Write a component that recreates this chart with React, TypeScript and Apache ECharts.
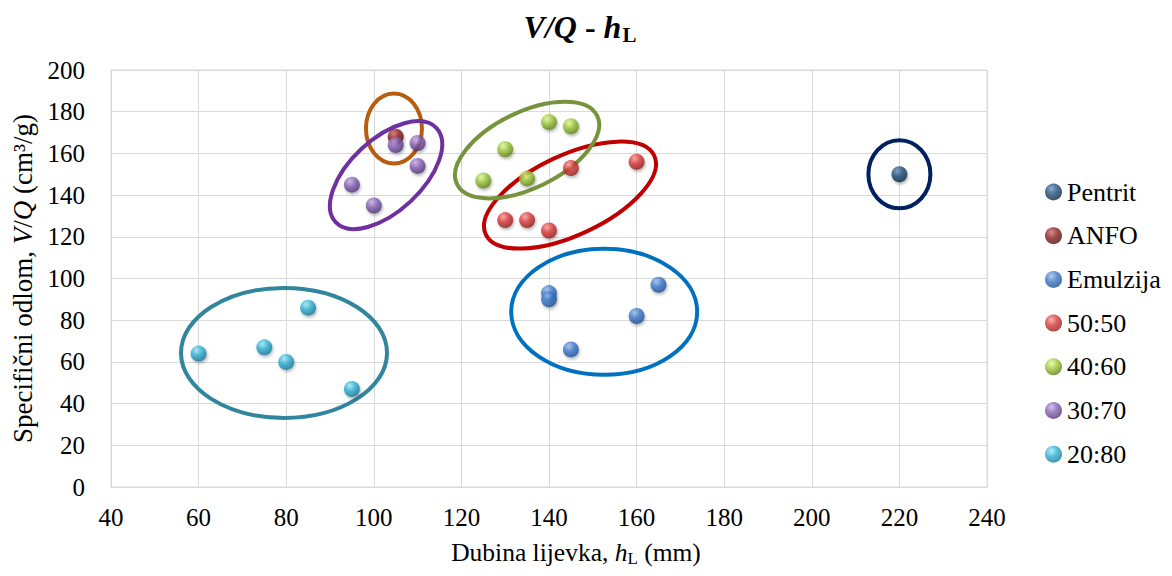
import React, { useEffect, useRef } from "react";
import * as echarts from "echarts";

const seriesNames = ["Pentrit", "ANFO", "Emulzija", "50:50", "40:60", "30:70", "20:80"];
const pentrit = [[220, 150]];
const anfo = [[105, 168]];
const emulzija = [[140, 93], [140, 90], [145, 66], [160, 82], [165, 97]];
const s5050 = [[130, 128], [135, 128], [140, 123], [145, 153], [160, 156]];
const s4060 = [[125, 147], [130, 162], [135, 148], [140, 175], [145, 173]];
const s3070 = [[95, 145], [100, 135], [105, 164], [110, 165], [110, 154]];
const s2080 = [[60, 64], [75, 67], [80, 60], [85, 86], [95, 47]];
const seriesData = [pentrit, anfo, emulzija, s5050, s4060, s3070, s2080];

// cluster ellipse centres (data units)
const ellipseCenters = [
  [220, 150],
  [104.6, 172],
  [152.6, 84],
  [144.8, 140],
  [135, 161.6],
  [102.8, 149.6],
  [79.5, 64.3],
];

const xTicks = { min: 40, max: 240, interval: 20 };
const yTicks = { min: 0, max: 200, interval: 20 };

// styles
const baseColors = ["#1F4E79", "#8B1E1E", "#3C78C8", "#D83A3A", "#9CC43A", "#8460B0", "#2FB0D0"];
const lightColors = ["#6F93C0", "#D07070", "#9CC0F0", "#FF9A9A", "#E4FF9A", "#C8B0F0", "#A0EAFF"];
const darkColors = ["#0C2340", "#4A0C0C", "#1C4A8A", "#8A1A1A", "#5A7A18", "#4A3070", "#137090"];
const ellipseStyles = [
  { rx: 31, ry: 34, rot: 0, color: "#002060" },
  { rx: 28, ry: 35, rot: 0, color: "#B85C10" },
  { rx: 93, ry: 63, rot: 0, color: "#0070C0" },
  { rx: 93, ry: 40, rot: 25, color: "#C00000" },
  { rx: 78, ry: 38, rot: 26, color: "#77933C" },
  { rx: 69, ry: 36, rot: 43, color: "#7030A0" },
  { rx: 103, ry: 65, rot: 0, color: "#31859C" },
];

const FONT = "Liberation Serif";

export default function App() {
  const ref = useRef<HTMLDivElement>(null);
  useEffect(() => {
    const chart = echarts.init(ref.current!, null, { renderer: "svg" });
    const scatterSeries = seriesNames.map((name, i) => ({
      name,
      type: "scatter",
      data: seriesData[i],
      symbol: "circle",
      symbolSize: 16,
      z: 3,
      itemStyle: {
        color: new echarts.graphic.RadialGradient(0.38, 0.3, 0.75, [
          { offset: 0, color: lightColors[i] },
          { offset: 0.45, color: baseColors[i] },
          { offset: 1, color: darkColors[i] },
        ]),
        shadowBlur: 3,
        shadowColor: "rgba(0,0,0,0.35)",
        shadowOffsetX: 1,
        shadowOffsetY: 2,
      },
    }));
    const ellipseSeries = {
      type: "custom",
      silent: true,
      z: 2,
      data: ellipseCenters.map((c, i) => [c[0], c[1], i]),
      renderItem: (params: any, api: any) => {
        const p = api.coord([api.value(0), api.value(1)]);
        const st = ellipseStyles[api.value(2)];
        return {
          type: "ellipse",
          x: p[0],
          y: p[1],
          rotation: (st.rot * Math.PI) / 180,
          shape: { cx: 0, cy: 0, rx: st.rx, ry: st.ry },
          style: { fill: "none", stroke: st.color, lineWidth: 4 },
        };
      },
    };
    chart.setOption({
      animation: false,
      title: {
        text: "{i|V}{i|/}{i|Q}{b| - }{i|h}{s|L}",
        left: 575,
        textAlign: "center",
        top: 3,
        textStyle: {
          rich: {
            i: { fontFamily: FONT, fontSize: 32, fontWeight: "bold", fontStyle: "italic", color: "#000" },
            b: { fontFamily: FONT, fontSize: 32, fontWeight: "bold", color: "#000" },
            s: { fontFamily: FONT, fontSize: 21, color: "#000", padding: [16, 0, 0, 1] },
          },
        },
      },
      legend: {
        orient: "vertical",
        left: 1040,
        top: 174,
        itemGap: 17.7,
        itemWidth: 17,
        itemHeight: 17,
        icon: "circle",
        data: seriesNames,
        textStyle: { fontFamily: FONT, fontSize: 26, color: "#000" },
      },
      grid: {
        left: 111,
        right: 185,
        top: 70,
        bottom: 89,
        show: true,
        borderColor: "#d9d9d9",
        borderWidth: 1,
      },
      xAxis: {
        type: "value",
        min: xTicks.min,
        max: xTicks.max,
        interval: xTicks.interval,
        name: "Dubina lijevka, {i|h}{s|L} (mm)",
        nameLocation: "middle",
        nameGap: 51,
        nameTextStyle: {
          fontFamily: FONT,
          fontSize: 25.5,
          color: "#000",
          padding: [0, 0, 0, 54],
          rich: {
            i: { fontFamily: FONT, fontSize: 25.5, fontStyle: "italic", color: "#000" },
            s: { fontFamily: FONT, fontSize: 17, color: "#000", padding: [12, 0, 0, 0] },
          },
        },
        axisLine: { show: true, lineStyle: { color: "#d9d9d9" } },
        axisTick: { show: false },
        splitLine: { show: true, lineStyle: { color: "#d9d9d9", width: 1 } },
        axisLabel: { fontFamily: FONT, fontSize: 25, color: "#000", margin: 18 },
      },
      yAxis: {
        type: "value",
        min: yTicks.min,
        max: yTicks.max,
        interval: yTicks.interval,
        name: "Specifični odlom, {i|V}/{i|Q} (cm³/g)",
        nameLocation: "middle",
        nameRotate: 90,
        nameGap: 72,
        nameTextStyle: {
          fontFamily: FONT,
          fontSize: 27,
          color: "#000",
          rich: {
            i: { fontFamily: FONT, fontSize: 27, fontStyle: "italic", color: "#000" },
          },
        },
        axisLine: { show: true, lineStyle: { color: "#d9d9d9" } },
        axisTick: { show: false },
        splitLine: { show: true, lineStyle: { color: "#d9d9d9", width: 1 } },
        axisLabel: { fontFamily: FONT, fontSize: 25, color: "#000", margin: 26 },
      },
      series: [ellipseSeries, ...scatterSeries],
    });
    return () => chart.dispose();
  }, []);
  return <div ref={ref} style={{ width: 1172, height: 576, position: "absolute", left: 0, top: 0 }} />;
}
